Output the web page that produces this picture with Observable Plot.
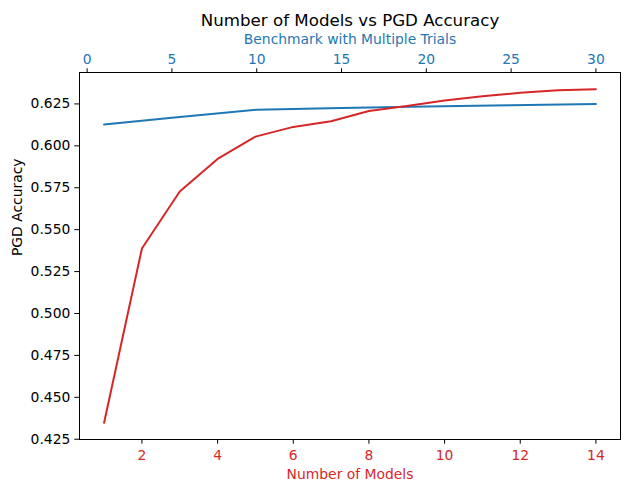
<!DOCTYPE html>
<html>
<head>
<meta charset="utf-8">
<script src="https://cdn.jsdelivr.net/npm/d3@7"></script>
<script src="https://cdn.jsdelivr.net/npm/@observablehq/plot@0.6"></script>
<style>
  html, body { margin: 0; padding: 0; background: #fff; }
  #chart svg { font-family: "DejaVu Sans", sans-serif; display: block; }
</style>
</head>
<body>
<div id="chart"></div>
<script>
// Red series: PGD accuracy vs number of models (bottom axis)
const numModels = [1, 2, 3, 4, 5, 6, 7, 8, 9, 10, 11, 12, 13, 14];
const modelAcc = [0.4348, 0.5388, 0.5728, 0.5922, 0.6055, 0.6113, 0.6147, 0.6208, 0.6238, 0.6271, 0.6296, 0.6316, 0.6331, 0.6338];

// Blue series: benchmark with multiple trials (top axis)
const trials = [1, 5, 10, 15, 20, 25, 30];
const trialAcc = [0.6127, 0.6167, 0.6216, 0.6226, 0.6234, 0.6242, 0.6250];

// Tick labels
const bottomTicks = [2, 4, 6, 8, 10, 12, 14];
const topTicks = [0, 5, 10, 15, 20, 25, 30];
const yTicks = [0.425, 0.450, 0.475, 0.500, 0.525, 0.550, 0.575, 0.600, 0.625];

const RED = "#d62728", BLUE = "#1f77b4";
const FS = 13.89;

// matplotlib-style 5% margins
function padExtent(arr) {
  const [a, b] = d3.extent(arr);
  const p = (b - a) * 0.05;
  return [a - p, b + p];
}
const xDom = padExtent(numModels);
const tDom = padExtent(trials);
const yDom = padExtent(modelAcc.concat(trialAcc));

// map top-axis (trials) values onto the shared x scale
const toX = d3.scaleLinear().domain(tDom).range(xDom);

const redData = numModels.map((x, i) => ({x, y: modelAcc[i]}));
const blueData = trials.map((t, i) => ({x: toX(t), y: trialAcc[i]}));

const chart = Plot.plot({
  width: 630,
  height: 492,
  marginLeft: 79,
  marginRight: 10,
  marginTop: 72,
  marginBottom: 53,
  style: {fontSize: FS + "px", fontFamily: "DejaVu Sans, sans-serif", background: "white"},
  x: {domain: xDom},
  y: {domain: yDom},
  marks: [
    Plot.axisY({ticks: yTicks, tickFormat: d3.format(".3f"), tickSize: 4.7, tickPadding: 4.5, label: null, stroke: "black", fill: "black", fontSize: FS}),
    Plot.axisX({anchor: "bottom", ticks: bottomTicks, tickFormat: d => String(d), tickSize: 4.7, tickPadding: 6, label: null, stroke: "black", fill: RED, fontSize: FS}),
    Plot.axisX({anchor: "top", ticks: topTicks.map(toX), tickFormat: d => String(Math.round(toX.invert(d))), tickSize: 4.7, tickPadding: 3.5, label: null, stroke: "black", fill: BLUE, fontSize: FS}),
    Plot.line(blueData, {x: "x", y: "y", stroke: BLUE, strokeWidth: 2}),
    Plot.line(redData, {x: "x", y: "y", stroke: RED, strokeWidth: 2}),
    Plot.frame({stroke: "black", strokeWidth: 1}),
    Plot.text(["Number of Models vs PGD Accuracy"], {frameAnchor: "top", dy: -58, text: d => d, fontSize: 16.67, fill: "black"}),
    Plot.text(["Benchmark with Multiple Trials"], {frameAnchor: "top", dy: -38.5, text: d => d, fontSize: FS, fill: BLUE}),
    Plot.text(["Number of Models"], {frameAnchor: "bottom", dy: 39.5, text: d => d, fontSize: FS, fill: RED}),
    Plot.text(["PGD Accuracy"], {frameAnchor: "left", dx: -62, rotate: -90, text: d => d, fontSize: FS, fill: "black"})
  ]
});
document.getElementById("chart").appendChild(chart);
</script>
</body>
</html>
